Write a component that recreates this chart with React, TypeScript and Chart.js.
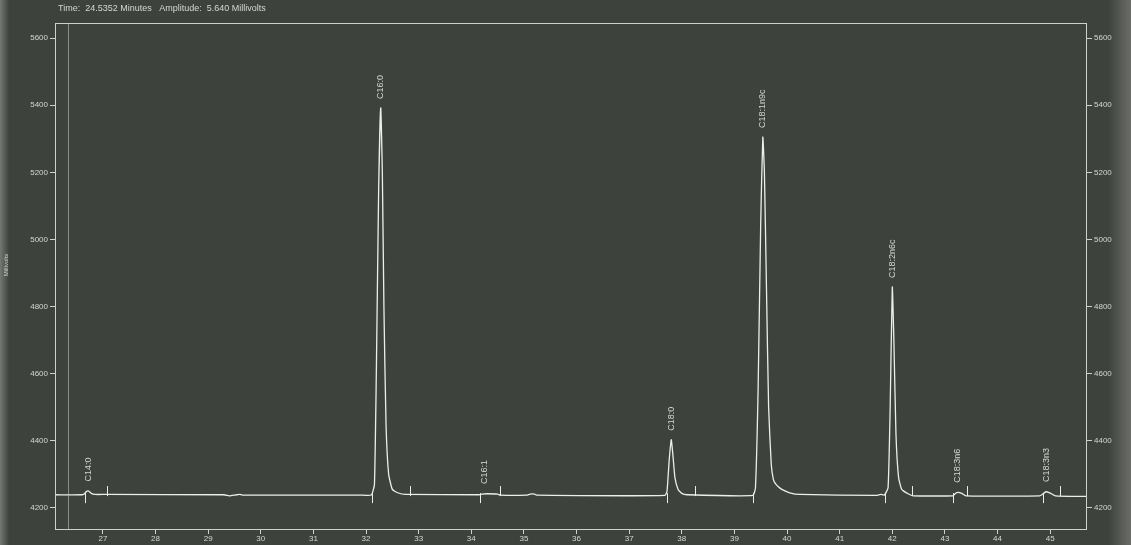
import React, { useEffect, useRef } from "react";
import { Chart, registerables } from "chart.js";

Chart.register(...registerables);

// ---- data ----
const traceTimes = [
  26.09, 26.6, 26.64, 26.69, 26.73, 26.78, 26.85, 27.05, 29.3, 29.4, 29.45, 29.55, 29.6, 29.65,
  31.9, 32.1, 32.16, 32.2, 32.24, 32.28, 32.31, 32.34, 32.38, 32.43, 32.5, 32.6, 32.75,
  34.15, 34.2, 34.3, 34.5, 34.55, 35.05, 35.12, 35.2, 35.25,
  37.68, 37.72, 37.76, 37.8, 37.83, 37.87, 37.93, 38.0, 38.1,
  39.35, 39.4, 39.45, 39.5, 39.54, 39.57, 39.61, 39.65, 39.7, 39.74, 39.78, 39.84, 39.9, 40.05, 40.25,
  41.7, 41.78, 41.85, 41.92, 41.96, 42.0, 42.03, 42.07, 42.12, 42.18, 42.3, 42.4,
  43.15, 43.2, 43.25, 43.32, 43.4, 44.8, 44.85, 44.92, 45.0, 45.1, 45.7,
];
const traceValues = [
  4239, 4239, 4241, 4249, 4250, 4243, 4240, 4240, 4239, 4236, 4237, 4239, 4240, 4238,
  4238, 4238, 4270, 4650, 5150, 5392, 5200, 4800, 4450, 4300, 4255, 4245, 4240,
  4239, 4241, 4242, 4241, 4238, 4238, 4241, 4241, 4238,
  4237, 4250, 4340, 4403, 4360, 4290, 4255, 4243, 4239,
  4237, 4260, 4550, 5050, 5305, 5200, 4850, 4500, 4330, 4285, 4272, 4262, 4255, 4245, 4240,
  4237, 4240, 4238, 4260, 4500, 4858, 4700, 4420, 4290, 4255, 4242, 4236,
  4236, 4243, 4246, 4243, 4236, 4236, 4240, 4248, 4244, 4236, 4234,
];

const peakNames = ["C14:0", "C16:0", "C16:1", "C18:0", "C18:1n9c", "C18:2n6c", "C18:3n6", "C18:3n3"];
const peakTimes = [26.72, 32.28, 34.25, 37.8, 39.54, 42.0, 43.24, 44.93];
const peakHeights = [4252, 5392, 4244, 4403, 5305, 4858, 4248, 4250];

const markerDownTimes = [26.66, 32.11, 34.17, 37.72, 39.36, 41.87, 43.16, 44.87];
const markerUpTimes = [27.08, 32.84, 34.55, 38.25, 42.38, 43.42, 45.19];
const markerBaseline = 4238;

const xTickValues = [27, 28, 29, 30, 31, 32, 33, 34, 35, 36, 37, 38, 39, 40, 41, 42, 43, 44, 45];
const yTickValues = [4200, 4400, 4600, 4800, 5000, 5200, 5400, 5600];
const xMin = 26.09;
const xMax = 45.7;
const yMin = 4134;
const yMax = 5645;
const innerLineTime = 26.34;

const titleText = "Time:  24.5352 Minutes   Amplitude:  5.640 Millivolts";
const yAxisTitle = "Millivolts";

const FONT = "'Liberation Sans', Arial, sans-serif";
const TEXT = "#d4d6d2";
const LINE = "#eceeea";
const BG = "#3e423d";

const overlay = {
  id: "overlay",
  beforeDraw(chart: any) {
    const { ctx, width, height } = chart;
    ctx.save();
    const g = ctx.createLinearGradient(0, 0, width, 0);
    g.addColorStop(0, "#767873");
    g.addColorStop(0.008, BG);
    g.addColorStop(0.98, BG);
    g.addColorStop(1, "#6a6d68");
    ctx.fillStyle = g;
    ctx.fillRect(0, 0, width, height);
    ctx.restore();
  },
  afterDatasetsDraw(chart: any) {
    const { ctx, chartArea, scales } = chart;
    const xs = scales.x;
    const ys = scales.y;
    ctx.save();
    // frame
    ctx.strokeStyle = "#cfd1cd";
    ctx.lineWidth = 1;
    ctx.strokeRect(chartArea.left + 0.5, chartArea.top + 0.5, chartArea.right - chartArea.left - 1, chartArea.bottom - chartArea.top - 1);
    // inner faint line
    ctx.strokeStyle = "rgba(200,202,198,0.55)";
    const ix = Math.round(xs.getPixelForValue(innerLineTime)) + 0.5;
    ctx.beginPath();
    ctx.moveTo(ix, chartArea.top);
    ctx.lineTo(ix, chartArea.bottom);
    ctx.stroke();
    // integration markers
    ctx.strokeStyle = LINE;
    const by = ys.getPixelForValue(markerBaseline);
    markerDownTimes.forEach((t) => {
      const px = Math.round(xs.getPixelForValue(t)) + 0.5;
      ctx.beginPath();
      ctx.moveTo(px, by - 2);
      ctx.lineTo(px, by + 8);
      ctx.stroke();
    });
    markerUpTimes.forEach((t) => {
      const px = Math.round(xs.getPixelForValue(t)) + 0.5;
      ctx.beginPath();
      ctx.moveTo(px, by + 1);
      ctx.lineTo(px, by - 9);
      ctx.stroke();
    });
    // peak labels
    ctx.fillStyle = TEXT;
    ctx.font = `9px ${FONT}`;
    ctx.textAlign = "left";
    ctx.textBaseline = "middle";
    peakNames.forEach((name, i) => {
      const px = xs.getPixelForValue(peakTimes[i]);
      const py = ys.getPixelForValue(peakHeights[i]) - 9;
      ctx.save();
      ctx.translate(px, py);
      ctx.rotate(-Math.PI / 2);
      ctx.fillText(name, 0, 0);
      ctx.restore();
    });
    // title
    ctx.font = `9px ${FONT}`;
    ctx.textBaseline = "middle";
    ctx.fillText(titleText, 58, 9);
    // y title
    ctx.save();
    ctx.translate(6, 265);
    ctx.rotate(-Math.PI / 2);
    ctx.textAlign = "center";
    ctx.font = `6px ${FONT}`;
    ctx.fillText(yAxisTitle, 0, 0);
    ctx.restore();
    ctx.restore();
  },
};

export default function App() {
  const ref = useRef<HTMLCanvasElement>(null);
  useEffect(() => {
    document.body.style.margin = "0";
    document.body.style.background = BG;
    const canvas = ref.current!;
    const yTicks = (s: any) => {
      s.ticks = yTickValues.map((v) => ({ value: v }));
    };
    const yScaleBase = {
      type: "linear" as const,
      min: yMin,
      max: yMax,
      afterBuildTicks: yTicks,
      grid: { display: true, drawOnChartArea: false, drawTicks: true, tickLength: 5, color: "#cfd1cd" },
      border: { display: false },
      ticks: {
        color: TEXT,
        font: { size: 8, family: FONT },
        padding: 2,
        callback: (v: any) => String(v),
      },
    };
    const chart = new Chart(canvas, {
      type: "line",
      data: {
        datasets: [
          {
            data: traceTimes.map((t, i) => ({ x: t, y: traceValues[i] })),
            borderColor: LINE,
            borderWidth: 1.3,
            pointRadius: 0,
            tension: 0.15,
            fill: false,
          },
        ],
      },
      options: {
        responsive: false,
        animation: false,
        layout: { padding: { top: 23, left: 0, right: 0, bottom: 0 } },
        plugins: { legend: { display: false }, tooltip: { enabled: false }, title: { display: false } },
        scales: {
          x: {
            type: "linear",
            min: xMin,
            max: xMax,
            afterBuildTicks: (s: any) => {
              s.ticks = xTickValues.map((v) => ({ value: v }));
            },
            afterFit: (s: any) => {
              s.height = 15;
            },
            grid: { display: true, drawOnChartArea: false, drawTicks: true, tickLength: 4, color: "#cfd1cd" },
            border: { display: false },
            ticks: {
              color: TEXT,
              font: { size: 8, family: FONT },
              padding: 0,
              maxRotation: 0,
              autoSkip: false,
              callback: (v: any) => String(v),
            },
          },
          y: {
            ...yScaleBase,
            position: "left",
            afterFit: (s: any) => {
              s.width = 55;
            },
          },
          y2: {
            ...yScaleBase,
            position: "right",
            afterFit: (s: any) => {
              s.width = 44;
            },
          },
        },
      } as any,
      plugins: [overlay],
    });
    return () => chart.destroy();
  }, []);
  return (
    <div style={{ position: "absolute", left: 0, top: 0, width: 1131, height: 545 }}>
      <canvas ref={ref} width={1131} height={545} />
    </div>
  );
}
